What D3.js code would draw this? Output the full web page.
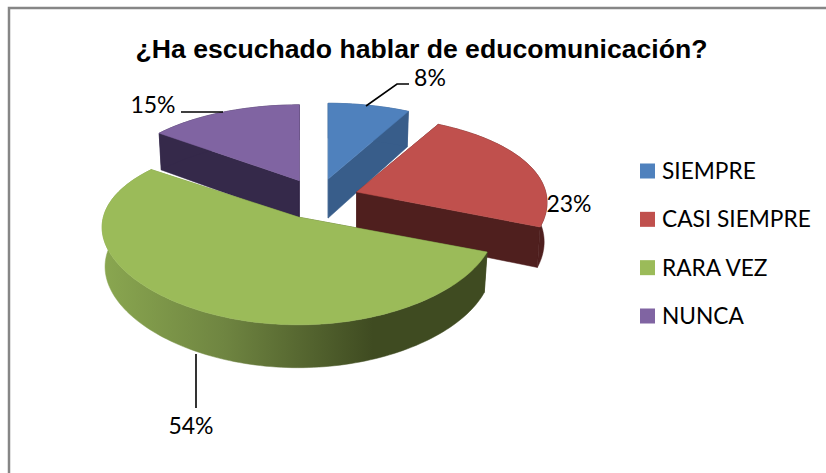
<!DOCTYPE html>
<html><head><meta charset="utf-8">
<style>html,body{margin:0;padding:0;background:#fff}svg{display:block}</style>
<script src="https://cdn.jsdelivr.net/npm/d3@7/dist/d3.min.js"></script>
</head><body><div id="c"></div>
<script>
const categories = ["SIEMPRE","CASI SIEMPRE","RARA VEZ","NUNCA"];
const values = [8,23,54,15];
const labels = ["8%","23%","54%","15%"];
const topColors = ["#4f81bd","#c0504d","#9bbb59","#8064a2"];
const sideColors = ["#385d8a","#4f1f1e","url(#greenSide)","#35294a"];
const title = "¿Ha escuchado hablar de educomunicación?";

const W=826,H=473;
const svg=d3.select("#c").append("svg").attr("width",W).attr("height",H);
const defs=svg.append("defs");
const g=defs.append("linearGradient").attr("id","greenSide").attr("gradientUnits","userSpaceOnUse")
  .attr("x1",102).attr("x2",373).attr("y1",0).attr("y2",0);
g.append("stop").attr("offset",0).attr("stop-color","#8aa750");
g.append("stop").attr("offset",.45).attr("stop-color","#6f8541");
g.append("stop").attr("offset",1).attr("stop-color","#3f4b21");

svg.append("path").attr("d",`M${W},8H9V${H}`).attr("fill","none").attr("stroke","#868686").attr("stroke-width",2.5);

svg.append("text").attr("x",421.5).attr("y",58).attr("text-anchor","middle")
  .attr("font-family","Liberation Sans").attr("font-weight","bold").attr("font-size",26.6).attr("fill","#000").text(title);

const cx=318,cy=199,ex=41,ey=20.6,Rx=187,Ry=89,t=.174,explode=.21,depth=39;
const arcs=d3.pie().sort(null)(values);
const unit=a=>[Math.sin(a),-Math.cos(a)];
function apex(a){const m=unit(a);return [cx+ex*m[0],cy+ey*m[1]];}
function proj(ap,mid,a,r,down){
  const u=unit(a),m=unit(mid),s=1/(1-t*u[1]*r);
  const sx=1.02+.12*(u[1]*r+explode*m[1]);
  const shrink=down?.985:1;
  const k=r===0?0:1;
  return [ap[0]+k*Rx*u[0]*sx*shrink, ap[1]+k*Ry*u[1]*s+(down?depth*(1+.1*u[1]*r):0)];
}
const line=d3.line();
const order=[0,3,1,2];
order.forEach(i=>{
  const d=arcs[i],mid=(d.startAngle+d.endAngle)/2,ap=apex(mid);
  const n=Math.max(8,Math.round((d.endAngle-d.startAngle)*40));
  const as=d3.range(n+1).map(k=>d.startAngle+(d.endAngle-d.startAngle)*k/n);
  const G=svg.append("g");
  const side=sideColors[i];
  const P=(a,r,dn)=>proj(ap,mid,a,r,dn);
  const wall=a=>[P(a,0,false),P(a,1,false),P(a,1,true),P(a,0,true)];
  [d.startAngle,d.endAngle].forEach(a=>G.append("path").attr("d",line(wall(a))+"Z").attr("fill",side).attr("stroke",side).attr("stroke-width",.5));
  const rim=as.map(a=>P(a,1,false)).concat(as.slice().reverse().map(a=>P(a,1,true)));
  G.append("path").attr("d",line(rim)+"Z").attr("fill",side).attr("stroke",side).attr("stroke-width",.5);
  const top=[P(0,0,false)].concat(as.map(a=>P(a,1,false)));
  G.append("path").attr("d",line(top)+"Z").attr("fill",topColors[i]).attr("stroke",topColors[i]).attr("stroke-width",.5);
});

const labelPos=[[430,86],[569,212],[191,434],[153,113]];
const leaders=[[[366,106],[397,84],[409,84]],null,[[196,354],[196,408]],[[181,112],[223,112]]];
leaders.forEach(l=>{if(l)svg.append("path").attr("d",line(l)).attr("fill","none").attr("stroke","#000").attr("stroke-width",1.6);});
labels.forEach((s,i)=>svg.append("text").attr("x",labelPos[i][0]).attr("y",labelPos[i][1]).attr("text-anchor","middle")
  .attr("font-family","Lato").attr("font-size",23).attr("fill","#000").text(s));

const ly=d3.scalePoint().domain(categories).range([171,316]);
categories.forEach((c,i)=>{
  svg.append("rect").attr("x",640).attr("y",ly(c)-7.5).attr("width",15).attr("height",15).attr("fill",topColors[i]);
  svg.append("text").attr("x",662).attr("y",ly(c)+8).attr("font-family","Lato").attr("font-size",22.7).attr("fill","#000").text(c);
});
</script></body></html>
